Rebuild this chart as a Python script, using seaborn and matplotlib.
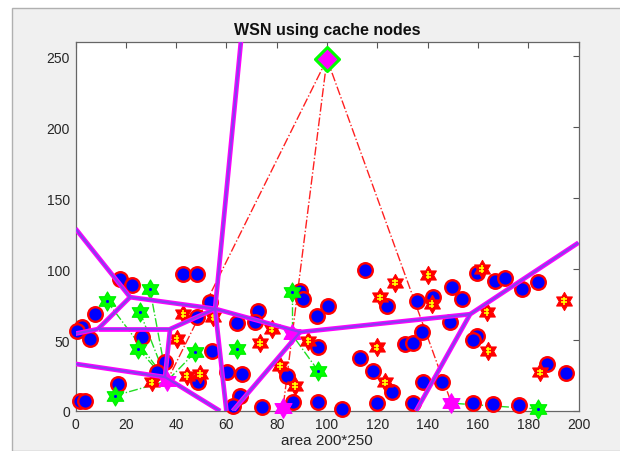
import numpy as np
import pandas as pd
import matplotlib
matplotlib.use("Agg")
import matplotlib.pyplot as plt
from matplotlib.patches import Rectangle
from matplotlib.path import Path
import seaborn as sns

# ---------------- data ----------------
# ordinary sensor nodes (blue circles)
node_x = [17.7, 22.3, 42.9, 48.2, 7.8, 53.5, 2.5, 0.5, 5.8, 26.3, 64.1, 72.7, 71.4,
          48.2, 54.2, 35.6, 32.3, 60.1, 66.1, 48.8, 17.0, 65.4, 62.7, 1.8, 3.8,
          89.3, 90.6, 115.1, 100.5, 95.9, 123.7, 135.7, 142.3, 96.5, 113.1, 118.4,
          131.0, 134.3, 137.7, 84.0, 125.7, 138.3, 145.6, 86.6, 96.5, 105.8, 119.8,
          134.3, 74.0, 159.5, 166.8, 170.8, 177.4, 184.0, 149.6, 153.6, 148.9,
          159.5, 158.2, 187.4, 195.0, 158.2, 165.9, 176.5]
node_y = [93.3, 88.6, 96.3, 96.3, 68.2, 76.9, 58.9, 56.5, 50.6, 51.8, 61.9, 70.5, 62.9,
          65.9, 42.4, 34.2, 27.2, 27.2, 26.0, 20.2, 19.0, 10.8, 3.7, 7.2, 7.2,
          84.6, 78.8, 99.4, 74.1, 67.0, 74.1, 77.6, 80.4, 44.8, 37.1, 28.3,
          47.1, 47.6, 55.8, 24.8, 13.2, 20.2, 20.2, 6.1, 6.1, 1.4, 5.4,
          5.4, 2.6, 97.5, 91.6, 94.0, 85.8, 90.9, 87.5, 78.8, 62.4,
          53.0, 49.9, 33.1, 26.7, 5.6, 4.9, 4.2]

# cluster heads (red hexagrams)
ch_x = [42.9, 54.8, 40.2, 44.2, 49.5, 30.3, 73.4, 78.0, 92.6, 81.3, 87.3, 119.8,
        123.1, 121.1, 127.0, 140.3, 141.6, 161.5, 163.5, 164.1, 184.7, 194.2]
ch_y = [68.2, 65.9, 50.6, 24.8, 26.0, 20.2, 47.8, 57.7, 49.4, 31.9, 17.8, 44.8,
        20.2, 80.0, 90.5, 95.8, 75.2, 99.9, 69.8, 42.4, 27.2, 77.6]

# cache nodes (green hexagrams)
cache_x = [12.4, 29.6, 25.6, 25.0, 47.5, 64.1, 15.7, 86.0, 96.5, 184.0]
cache_y = [77.6, 85.8, 69.8, 43.6, 41.3, 43.6, 10.8, 83.5, 28.3, 1.4]

# mobile-sink stops (magenta hexagrams)
stop_x = [36.4, 86.0, 82.5, 149.5]
stop_y = [21.1, 54.1, 2.0, 5.5]

# base station (diamond)
sink_x = [100.0]
sink_y = [248.0]

# cache node -> stop links (green dash-dot)
cache_link = [0, 2, 3, 6, 1, 4, 7, 8, 9]
cache_link_stop = [0, 0, 0, 0, 0, 0, 1, 1, 3]

# base station -> stop links (red dash-dot)
sink_link_stop = [0, 2, 3]

# Voronoi edges (x1, y1, x2, y2)
vor_x1 = [0.0, 21.7, 21.7, 0.0, 8.9, 37.6, 37.6, 0.0, 35.6, 55.5, 55.5, 55.5, 89.3, 89.3, 156.9, 156.9]
vor_y1 = [128.5, 80.2, 80.2, 54.5, 57.7, 57.7, 57.7, 33.2, 23.9, 72.0, 72.0, 72.0, 55.6, 55.6, 68.2, 68.2]
vor_x2 = [21.7, 55.5, 8.9, 8.9, 37.6, 55.5, 35.6, 35.6, 57.5, 66.3, 60.0, 89.3, 62.5, 156.9, 200.0, 135.4]
vor_y2 = [80.2, 72.0, 57.7, 57.7, 57.7, 72.0, 23.9, 23.9, 0.0, 270.0, 0.0, 55.6, 0.0, 68.2, 118.6, 0.0]

title_text = "WSN using cache nodes"
xlabel_text = "area 200*250"
xticks = [0, 20, 40, 60, 80, 100, 120, 140, 160, 180, 200]
yticks = [0, 50, 100, 150, 200, 250]

# ---------------- styling helpers ----------------
sns.set_theme(style="white")
plt.rcParams['font.family'] = ['Liberation Sans', 'DejaVu Sans']

r_in = 1 / np.sqrt(3)
hexv = []
for k in range(6):
    a = np.deg2rad(90 + 60 * k)
    b = a + np.deg2rad(30)
    hexv.append((np.cos(a), np.sin(a)))
    hexv.append((r_in * np.cos(b), r_in * np.sin(b)))
hexv.append(hexv[0])
HEX = Path(hexv, closed=True)

dd_path = Path([(0, -1), (0, 1), (-0.7, 0.4), (0.7, 0.4), (-0.7, -0.4), (0.7, -0.4)],
               [Path.MOVETO, Path.LINETO, Path.MOVETO, Path.LINETO, Path.MOVETO, Path.LINETO])

fig = plt.figure(figsize=(6.2, 4.52), dpi=100)
fig.patch.set_facecolor('white')
fig.patches.append(Rectangle((12 / 620, 0), 1, (452 - 9) / 452, transform=fig.transFigure,
                             facecolor='#f0f0f0', edgecolor='#b0b0b0', lw=1.0, zorder=-10))
ax = fig.add_axes([75.5 / 620, 40 / 452, 503 / 620, 369 / 452])
ax.set_facecolor('white')

df_nodes = pd.DataFrame({"x": node_x, "y": node_y})
df_ch = pd.DataFrame({"x": ch_x, "y": ch_y})
df_cache = pd.DataFrame({"x": cache_x, "y": cache_y})
df_stop = pd.DataFrame({"x": stop_x, "y": stop_y})
df_sink = pd.DataFrame({"x": sink_x, "y": sink_y})

# links
for ci, si in zip(cache_link, cache_link_stop):
    ax.plot([cache_x[ci], stop_x[si]], [cache_y[ci], stop_y[si]], ls='-.', color='#22dd22',
            lw=1.0, zorder=2)
for si in sink_link_stop:
    ax.plot([sink_x[0], stop_x[si]], [sink_y[0], stop_y[si]], ls='-.', color='#ff2020',
            lw=1.0, zorder=2)

sns.scatterplot(data=df_nodes, x="x", y="y", marker='o', s=110, color='#0000ff',
                edgecolor='#ff0000', linewidth=1.7, ax=ax, zorder=3, legend=False, clip_on=False)
sns.scatterplot(data=df_ch, x="x", y="y", marker=HEX, s=170, color='#ff0000',
                edgecolor='#ff0000', linewidth=0.8, ax=ax, zorder=4, legend=False, clip_on=False)
ax.scatter(ch_x, ch_y, marker=dd_path, s=30, facecolor='none', edgecolor='#ffff00',
           linewidths=1.2, zorder=5, clip_on=False)
sns.scatterplot(data=df_cache, x="x", y="y", marker=HEX, s=190, color='#00ff00',
                edgecolor='#00ee00', linewidth=0.8, ax=ax, zorder=4, legend=False, clip_on=False)
ax.scatter(cache_x, cache_y, marker='o', s=5, color='#0000ff', linewidths=0, zorder=5,
           clip_on=False)
sns.scatterplot(data=df_stop, x="x", y="y", marker=HEX, s=200, color='#ff00ff',
                edgecolor='#ff00ff', linewidth=0.8, ax=ax, zorder=4, legend=False, clip_on=False)
sns.scatterplot(data=df_sink, x="x", y="y", marker='D', s=150, color='#ff00ff',
                edgecolor='#00ff00', linewidth=2.2, ax=ax, zorder=6, legend=False, clip_on=False)

# Voronoi partition
for x1, y1, x2, y2 in zip(vor_x1, vor_y1, vor_x2, vor_y2):
    ax.plot([x1, x2], [y1, y2], color='#ff00ff', lw=3.4, solid_capstyle='butt', zorder=7)
    ax.plot([x1, x2], [y1, y2], color='#8a3cf0', lw=1.6, solid_capstyle='butt', zorder=8)

ax.set_xlim(0, 200)
ax.set_ylim(0, 260)
ax.set_xticks(xticks)
ax.set_yticks(yticks)
ax.tick_params(direction='in', length=4, width=0.8, color='#555555', labelsize=10,
               labelcolor='#262626', top=True, right=True, pad=4)
for sp in ax.spines.values():
    sp.set_color('#666666')
    sp.set_linewidth(0.9)
ax.set_xlabel(xlabel_text, fontsize=11, color='#262626', labelpad=2)
ax.set_ylabel("")
ax.set_title(title_text, fontsize=11.5, fontweight='bold', color='#111111', pad=6)

fig.savefig("out.png", dpi=100)
